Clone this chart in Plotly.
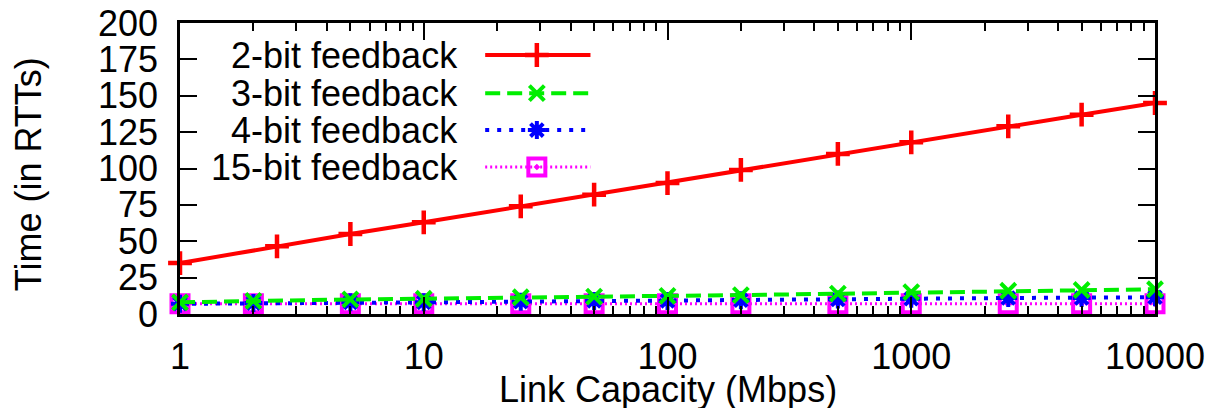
import plotly.graph_objects as go

# ---------------- data ----------------
x_two_bit = [1, 2.5, 5, 10, 25, 50, 100, 200, 500, 1000, 2500, 5000, 10000]
two_bit = [35, 46.5, 55, 63, 74, 82, 90, 99, 110, 118, 129, 137, 145]

x_multi = [1, 2, 5, 10, 25, 50, 100, 200, 500, 1000, 2500, 5000, 10000]
three_bit = [8, 9, 10, 10.5, 11.5, 12, 12.5, 13, 14, 15, 16, 16.5, 17]
four_bit = [7, 7.5, 8, 8, 8.5, 9, 9, 9.5, 10, 10.5, 11, 11, 11.5]
fifteen_bit = [7, 7, 7, 7, 7, 7, 7, 7, 7, 7, 7, 7, 7]

series_names = ["2-bit feedback", "3-bit feedback", "4-bit feedback", "15-bit feedback"]
x_tickvals = [1, 10, 100, 1000, 10000]
x_ticktext = ["1", "10", "100", "1000", "10000"]
y_tickvals = [0, 25, 50, 75, 100, 125, 150, 175, 200]
x_title = "Link Capacity (Mbps)"
y_title = "Time (in RTTs)"

# minor tick positions (2..9 within each decade)
minor_vals = [m * 10 ** d for d in range(4) for m in range(2, 10)]

# ---------------- styles ----------------
FONT = "Liberation Sans, Arial, sans-serif"
FS = 36
styles = [
    dict(color="#ff0000", dash="solid", lw=4, symbol="cross-thin", size=17, mlw=4.5),
    dict(color="#00ee00", dash="15px,7px", lw=4, symbol="x-thin", size=15, mlw=4),
    dict(color="#0000ff", dash="4px,8px", lw=4, symbol="asterisk", size=15, mlw=4),
    dict(color="#ff00ff", dash="2px,3px", lw=3, symbol="square-open-dot", size=17, mlw=4),
]
xs = [x_two_bit, x_multi, x_multi, x_multi]
ys = [two_bit, three_bit, four_bit, fifteen_bit]

fig = go.Figure()
for i in [3, 2, 1, 0]:
    s = styles[i]
    fig.add_trace(go.Scatter(
        x=xs[i], y=ys[i], mode="lines+markers", name=series_names[i],
        line=dict(color=s["color"], width=s["lw"], dash=s["dash"]),
        marker=dict(symbol=s["symbol"], size=s["size"], color=s["color"],
                    line=dict(color=s["color"], width=s["mlw"])),
        cliponaxis=False, showlegend=False,
    ))

# ---------------- custom legend (gnuplot style: text right, sample left) ----------------
leg_rows = [0.890, 0.759, 0.632, 0.505]
leg_text_x = 0.287
leg_line_x = [0.313, 0.421]
leg_mark_x = 0.366
for i, s in enumerate(styles):
    yy = leg_rows[i]
    fig.add_trace(go.Scatter(
        x=leg_line_x, y=[yy, yy], mode="lines", xaxis="x2", yaxis="y2",
        line=dict(color=s["color"], width=s["lw"], dash=s["dash"]),
        showlegend=False, hoverinfo="skip"))
    fig.add_trace(go.Scatter(
        x=[leg_mark_x], y=[yy], mode="markers", xaxis="x2", yaxis="y2",
        marker=dict(symbol=s["symbol"], size=s["size"], color=s["color"],
                    line=dict(color=s["color"], width=s["mlw"])),
        showlegend=False, hoverinfo="skip"))
    fig.add_annotation(x=leg_text_x, y=yy, xref="paper", yref="paper", text=series_names[i],
                       showarrow=False, xanchor="right", yanchor="middle",
                       font=dict(family=FONT, size=FS, color="black"))

# axis titles as annotations for exact placement
fig.add_annotation(x=0.5, y=-0.26, xref="paper", yref="paper", text=x_title, showarrow=False,
                   xanchor="center", yanchor="middle",
                   font=dict(family=FONT, size=FS, color="black"))
fig.add_annotation(x=-0.156, y=0.48, xref="paper", yref="paper", text=y_title, showarrow=False,
                   xanchor="center", yanchor="middle", textangle=-90,
                   font=dict(family=FONT, size=FS, color="black"))

axis_common = dict(
    showline=True, linecolor="black", linewidth=2.5, mirror="allticks",
    ticks="inside", ticklen=17, tickwidth=2, tickcolor="black",
    showgrid=False, zeroline=False, automargin=False,
    ticklabeloverflow="allow",
    tickfont=dict(family=FONT, size=FS, color="black"),
)

fig.update_layout(
    width=1217, height=408,
    margin=dict(l=172, r=70, t=15, b=102),
    plot_bgcolor="white", paper_bgcolor="white",
    font=dict(family=FONT, size=FS, color="black"),
    xaxis=dict(
        type="log", range=[0, 4], tickvals=x_tickvals, ticktext=x_ticktext,
        minor=dict(tickvals=minor_vals, ticks="inside", ticklen=8, tickwidth=2,
                   tickcolor="black", showgrid=False),
        ticklabelstandoff=9,
        **axis_common,
    ),
    yaxis=dict(
        range=[0, 200], tickvals=y_tickvals, ticklabelstandoff=12,
        **axis_common,
    ),
    xaxis2=dict(overlaying="x", range=[0, 1], visible=False, fixedrange=True),
    yaxis2=dict(overlaying="y", range=[0, 1], visible=False, fixedrange=True),
    showlegend=False,
)

fig.write_html("out.html")
